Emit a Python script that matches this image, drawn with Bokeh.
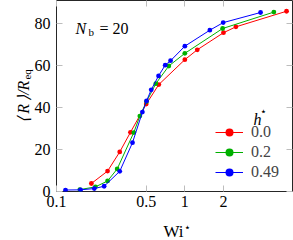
import math
from bokeh.plotting import figure
from bokeh.models import (Range1d, FixedTicker, NumeralTickFormatter, LogAxis, LinearAxis,
                          Label, Legend, LegendItem, CustomJSTickFormatter)
from bokeh.embed import file_html
from bokeh.resources import INLINE

# ---------------- data ----------------
series_labels = ["0.0", "0.2", "0.49"]
series_colors = ["#ff0000", "#00b000", "#0000ff"]

wi_h00 = [0.187, 0.25, 0.311, 0.377, 0.50, 0.627, 1.0, 1.25, 2.0, 2.5, 6.2]
r_h00 = [3.8, 9.7, 18.8, 28.1, 41.5, 50.8, 62.6, 67.3, 75.4, 78.2, 85.6]

wi_h02 = [0.152, 0.201, 0.25, 0.297, 0.40, 0.446, 0.503, 0.594, 0.75, 1.0, 1.97, 4.94]
r_h02 = [0.9, 2.2, 5.0, 10.7, 28.0, 35.8, 42.7, 51.2, 59.6, 65.6, 77.4, 85.2]

wi_h049 = [0.1175, 0.154, 0.197, 0.235, 0.311, 0.391, 0.467, 0.503, 0.547, 0.624, 0.703,
           0.774, 1.0, 1.566, 1.99, 3.89]
r_h049 = [0.7, 0.8, 1.4, 2.5, 9.6, 23.2, 37.7, 43.0, 48.3, 54.9, 60.0, 62.1, 69.0, 76.6,
          80.2, 85.0]

x_ticks = [0.1, 0.5, 1, 2]
y_ticks = [0, 20, 40, 60, 80]

FONT = "Liberation Serif"
TICK_COLOR = "#bdbdbd"
FRAME_COLOR = "#262626"

# ---------------- figure ----------------
p = figure(width=293, height=240, x_axis_type="log",
           x_range=Range1d(0.1, 6.9), y_range=Range1d(0, 90.7),
           output_backend="svg", toolbar_location=None,
           min_border_left=56, min_border_right=1, min_border_top=0,
           min_border_bottom=47)
p.grid.visible = False
p.background_fill_color = "white"
p.border_fill_color = "white"
p.outline_line_color = FRAME_COLOR
p.outline_line_width = 1
p.outline_line_alpha = 1.0


def style_axis(ax, show_labels, standoff):
    ax.axis_line_color = None
    ax.major_tick_in = 6
    ax.major_tick_out = 0
    ax.minor_tick_in = 0
    ax.minor_tick_out = 0
    ax.major_tick_line_color = TICK_COLOR
    ax.major_tick_line_width = 1
    ax.minor_tick_line_color = None
    ax.major_label_text_font = FONT
    if show_labels:
        ax.major_label_text_font_size = "16px"
        ax.major_label_text_color = "black"
        ax.major_label_standoff = standoff
    else:
        ax.formatter = CustomJSTickFormatter(code="return ''")
        ax.major_label_text_font_size = "1px"
        ax.major_label_standoff = 0


xt = FixedTicker(ticks=x_ticks, minor_ticks=[])
yt = FixedTicker(ticks=y_ticks, minor_ticks=[])

xb = p.xaxis[0]
xb.ticker = xt
xb.formatter = NumeralTickFormatter(format="0.[0]")
style_axis(xb, True, 4)

yl = p.yaxis[0]
yl.ticker = yt
style_axis(yl, True, 6)

xa = LogAxis(ticker=FixedTicker(ticks=x_ticks, minor_ticks=[]))
style_axis(xa, False, 0)
p.add_layout(xa, "above")

yr = LinearAxis(ticker=FixedTicker(ticks=y_ticks, minor_ticks=[]))
style_axis(yr, False, 0)
p.add_layout(yr, "right")

# ---------------- series ----------------
items = []
for wi, r, col, lab in zip([wi_h00, wi_h02, wi_h049], [r_h00, r_h02, r_h049],
                           series_colors, series_labels):
    ln = p.line(wi, r, line_color=col, line_width=1)
    sc = p.scatter(wi, r, marker="circle", size=4.8, fill_color=col, line_color=None)
    items.append(LegendItem(label=lab, renderers=[ln, sc]))

legend = Legend(items=items, location=(159, 9), padding=0, margin=0, spacing=0,
                glyph_width=28, glyph_height=20, label_height=20, label_standoff=8,
                label_text_font=FONT, label_text_font_size="16px",
                border_line_alpha=0, background_fill_alpha=0)
p.add_layout(legend)


# ---------------- texts ----------------
def px2x(px):
    return 10 ** ((px - 184.3) / 128.3)


def py2y(py):
    return (193.0 - py) / 2.127


def add_label(text, px, py, size, style="normal", align="left", angle=0.0, place=None):
    lab = Label(x=px2x(px), y=py2y(py), text=text, text_font=FONT,
                text_font_size=size, text_font_style=style, text_align=align,
                text_baseline="alphabetic", angle=angle, text_color="black")
    if place is None:
        p.add_layout(lab)
    else:
        p.add_layout(lab, place)


# N_b = 20
add_label("N", 75, 28.3, "16px", "italic")
add_label("b", 88, 31.5, "11px")
add_label("= 20", 99, 28.3, "16px")

# y label <R>/R_eq (rotated)
add_label("⟨\u2009R\u2009⟩/R", 23.5, 81, "16px", "italic", "right", math.pi / 2, "left")
add_label("eq", 26.5, 80, "11px", "normal", "left", math.pi / 2, "left")

# x label Wi*
add_label("Wi", 173, 233, "17px", "normal", "center", 0.0, "below")
add_label("⋆", 183.5, 229, "11px", "normal", "left", 0.0, "below")

# legend title h*
add_label("h", 253, 120, "16px", "italic")
add_label("⋆", 259.5, 111.5, "11px")

open("out.html", "w").write(file_html(p, INLINE))
